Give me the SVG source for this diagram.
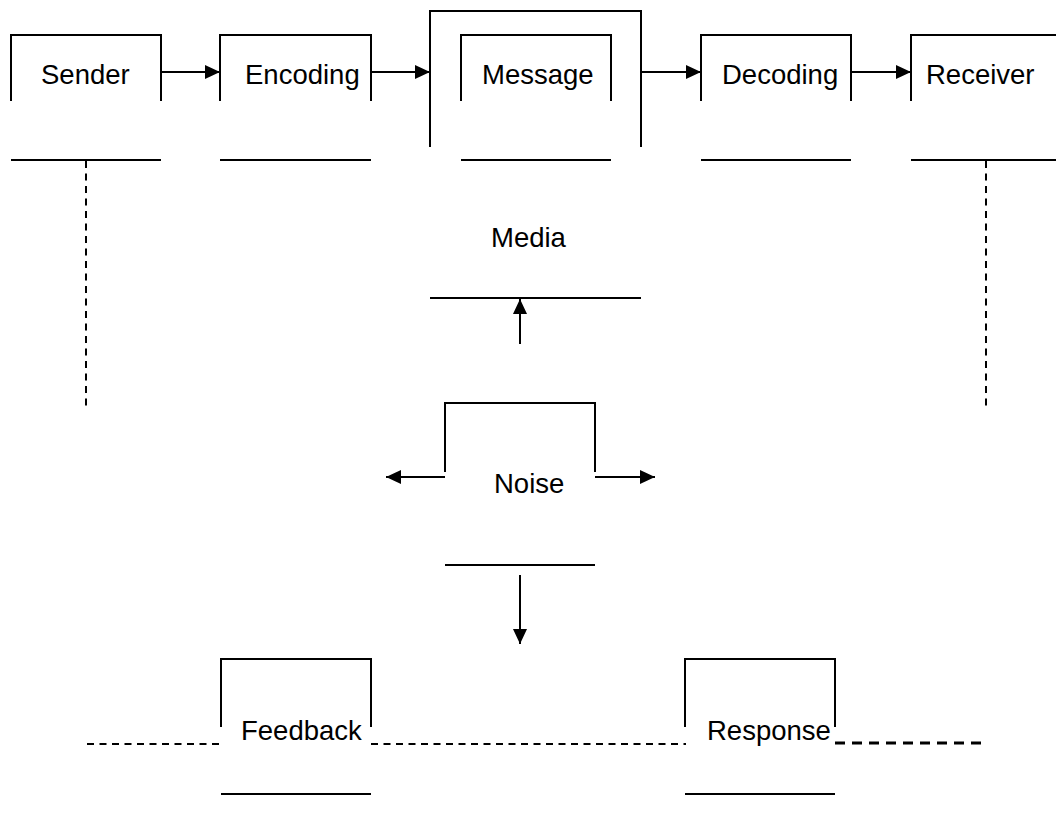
<svg xmlns="http://www.w3.org/2000/svg" width="1056" height="823" viewBox="0 0 1056 823">
  <style>
    .frame { fill: none; stroke: #000; stroke-width: 2; }
    .base { stroke: #000; stroke-width: 2; }
    .label { font-family: "Liberation Sans", Arial, sans-serif; font-size: 27.5px; fill: #000; }
    .flow { stroke: #000; stroke-width: 2; fill: none; marker-end: url(#head); }
    .dash { stroke: #000; stroke-width: 2; fill: none; stroke-dasharray: 7 5.5; }
    .dash-bold { stroke: #000; stroke-width: 3; fill: none; stroke-dasharray: 10 7; }
  </style>
  <defs>
    <marker id="head" markerUnits="userSpaceOnUse" markerWidth="15" markerHeight="14" refX="15" refY="7" orient="auto">
      <path d="M0,0 L15,7 L0,14 z" fill="#000"/>
    </marker>
  </defs>
  <rect width="1056" height="823" fill="#fff"/>

  <!-- top row -->
  <g id="sender">
    <path class="frame" d="M11,101 V35 H161 V101"/>
    <line class="base" x1="11" y1="160" x2="161" y2="160"/>
    <text class="label" x="41" y="84">Sender</text>
  </g>
  <g id="encoding">
    <path class="frame" d="M220,101 V35 H371 V101"/>
    <line class="base" x1="220" y1="160" x2="371" y2="160"/>
    <text class="label" x="245" y="84">Encoding</text>
  </g>
  <g id="media">
    <path class="frame" d="M430,147 V11 H641 V147"/>
    <line class="base" x1="430" y1="298" x2="641" y2="298"/>
    <text class="label" x="491" y="247">Media</text>
  </g>
  <g id="message">
    <path class="frame" d="M461,101 V35 H611 V101"/>
    <line class="base" x1="461" y1="160" x2="611" y2="160"/>
    <text class="label" x="482" y="84">Message</text>
  </g>
  <g id="decoding">
    <path class="frame" d="M701,101 V35 H851 V101"/>
    <line class="base" x1="701" y1="160" x2="851" y2="160"/>
    <text class="label" x="722" y="84">Decoding</text>
  </g>
  <g id="receiver">
    <path class="frame" d="M911,101 V35 H1062"/>
    <line class="base" x1="911" y1="160" x2="1056" y2="160"/>
    <text class="label" x="926" y="84">Receiver</text>
  </g>

  <!-- middle -->
  <g id="noise">
    <path class="frame" d="M445,472 V403 H595 V472"/>
    <line class="base" x1="445" y1="565" x2="595" y2="565"/>
    <text class="label" x="494" y="493">Noise</text>
  </g>

  <!-- bottom row -->
  <g id="feedback">
    <path class="frame" d="M221,727 V659 H371 V727"/>
    <line class="base" x1="221" y1="794" x2="371" y2="794"/>
    <text class="label" x="241" y="740">Feedback</text>
  </g>
  <g id="response">
    <path class="frame" d="M685,727 V659 H835 V727"/>
    <line class="base" x1="685" y1="794" x2="835" y2="794"/>
    <text class="label" x="707" y="740">Response</text>
  </g>

  <g id="connectors">
    <line class="flow" x1="161" y1="72" x2="220" y2="72"/>
    <line class="flow" x1="371" y1="72" x2="430" y2="72"/>
    <line class="flow" x1="641" y1="72" x2="701" y2="72"/>
    <line class="flow" x1="851" y1="72" x2="911" y2="72"/>
    <line class="flow" x1="520" y1="344" x2="520" y2="299"/>
    <line class="flow" x1="445" y1="477" x2="386" y2="477"/>
    <line class="flow" x1="595" y1="477" x2="655" y2="477"/>
    <line class="flow" x1="520" y1="575" x2="520" y2="644"/>
    <line class="dash" x1="86" y1="161" x2="86" y2="408"/>
    <line class="dash" x1="986" y1="161" x2="986" y2="408"/>
    <line class="dash" x1="87" y1="744" x2="221" y2="744"/>
    <line class="dash" x1="371" y1="744" x2="686" y2="744"/>
    <line class="dash-bold" x1="835" y1="743" x2="986" y2="743"/>
  </g>
</svg>
